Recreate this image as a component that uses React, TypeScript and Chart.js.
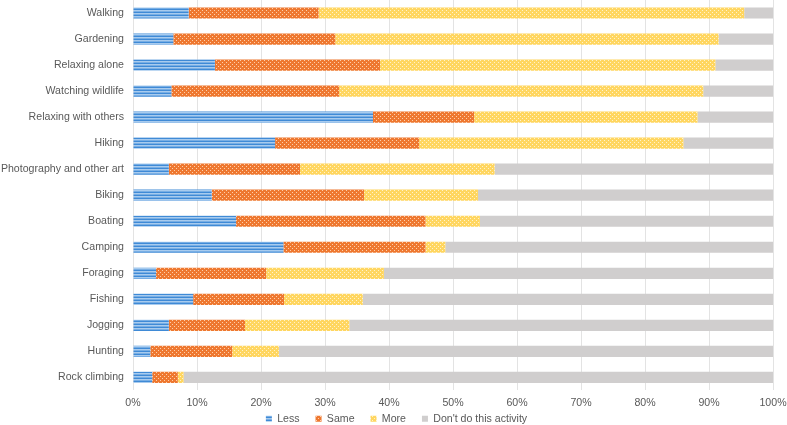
import React, { useEffect, useRef } from "react";
import Chart from "chart.js/auto";

const activities = [
  "Walking",
  "Gardening",
  "Relaxing alone",
  "Watching wildlife",
  "Relaxing with others",
  "Hiking",
  "Photography and other art",
  "Biking",
  "Boating",
  "Camping",
  "Foraging",
  "Fishing",
  "Jogging",
  "Hunting",
  "Rock climbing",
];

const lessValues = [8.7, 6.3, 12.8, 6.0, 37.5, 22.2, 5.6, 12.3, 16.1, 23.5, 3.6, 9.4, 5.6, 2.7, 3.0];
const sameValues = [20.3, 25.3, 25.8, 26.2, 15.8, 22.5, 20.5, 23.8, 29.6, 22.2, 17.2, 14.2, 11.9, 12.8, 4.0];
const moreValues = [66.5, 59.9, 52.4, 56.9, 34.9, 41.3, 30.4, 17.8, 8.5, 3.1, 18.4, 12.3, 16.3, 7.3, 0.9];
const noneValues = [4.5, 8.5, 9.0, 10.9, 11.8, 14.0, 43.5, 46.1, 45.8, 51.2, 60.8, 64.1, 66.2, 77.2, 92.1];

const seriesNames = ["Less", "Same", "More", "Don't do this activity"];
const xTicks = [0, 10, 20, 30, 40, 50, 60, 70, 80, 90, 100];

function stripePattern(): CanvasPattern | string {
  const c = document.createElement("canvas");
  c.width = 4;
  c.height = 3;
  const ctx = c.getContext("2d");
  if (!ctx) return "#5B9BD5";
  const rows = ["#3F8AD6", "#A8CBEE", "#78AEE4"];
  rows.forEach((col, i) => {
    ctx.fillStyle = col;
    ctx.fillRect(0, i, 4, 1);
  });
  return ctx.createPattern(c, "repeat") || "#5B9BD5";
}

function dotPattern(base: string, dot: string): CanvasPattern | string {
  const c = document.createElement("canvas");
  c.width = 4;
  c.height = 4;
  const ctx = c.getContext("2d");
  if (!ctx) return base;
  ctx.fillStyle = base;
  ctx.fillRect(0, 0, 4, 4);
  ctx.fillStyle = dot;
  ctx.fillRect(0, 0, 1, 1);
  ctx.fillRect(2, 2, 1, 1);
  return ctx.createPattern(c, "repeat") || base;
}

const legendShift = {
  id: "legendShift",
  afterLayout(chart: any) {
    const lg = chart.legend;
    if (lg) {
      lg.top -= 11;
      lg.bottom -= 11;
      lg.left += 10;
      lg.right += 10;
    }
  },
};

export default function App() {
  const ref = useRef<HTMLCanvasElement | null>(null);

  useEffect(() => {
    if (!ref.current) return;
    const fills = [
      stripePattern(),
      dotPattern("#EE7830", "rgba(255,215,185,0.9)"),
      dotPattern("#FFD660", "rgba(255,245,215,0.9)"),
      "#D0CECE",
    ];
    const values = [lessValues, sameValues, moreValues, noneValues];
    const font = { family: "'Liberation Sans', Arial, sans-serif", size: 10.6 };
    const chart = new Chart(ref.current, {
      type: "bar",
      data: {
        labels: activities,
        datasets: seriesNames.map((name, i) => ({
          label: name,
          data: values[i],
          backgroundColor: fills[i] as any,
          borderWidth: 0,
          barPercentage: 0.43,
          categoryPercentage: 1,
        })),
      },
      plugins: [legendShift],
      options: {
        indexAxis: "y",
        animation: false,
        responsive: false,
        maintainAspectRatio: false,
        layout: { padding: { top: 0, right: 14, left: 0, bottom: -20 } },
        plugins: {
          tooltip: { enabled: false },
          legend: {
            position: "bottom",
            labels: {
              boxWidth: 6,
              boxHeight: 6,
              color: "#595959",
              font,
              padding: 16,
            },
          },
        },
        scales: {
          x: {
            stacked: true,
            min: 0,
            max: 100,
            afterBuildTicks: (scale: any) => {
              scale.ticks = xTicks.map((v) => ({ value: v }));
            },
            afterFit: (scale: any) => {
              scale.height = 18;
              scale.paddingLeft = 0;
              scale.paddingRight = 0;
            },
            ticks: {
              color: "#595959",
              font,
              padding: 6,
              callback: (v: any) => v + "%",
            },
            grid: { color: "#E3E3E3", drawTicks: false },
            border: { display: false },
          },
          y: {
            stacked: true,
            afterFit: (scale: any) => {
              scale.width = 133;
              scale.paddingTop = 0;
              scale.paddingBottom = 0;
            },
            ticks: { color: "#595959", font, padding: 9 },
            grid: { display: false, drawTicks: false },
            border: { display: false },
          },
        },
      },
    });
    return () => chart.destroy();
  }, []);

  return (
    <div style={{ position: "fixed", left: 0, top: 0, width: 787, height: 425, background: "#fff" }}>
      <canvas ref={ref} width={787} height={425} style={{ display: "block", width: 787, height: 425 }} />
    </div>
  );
}
